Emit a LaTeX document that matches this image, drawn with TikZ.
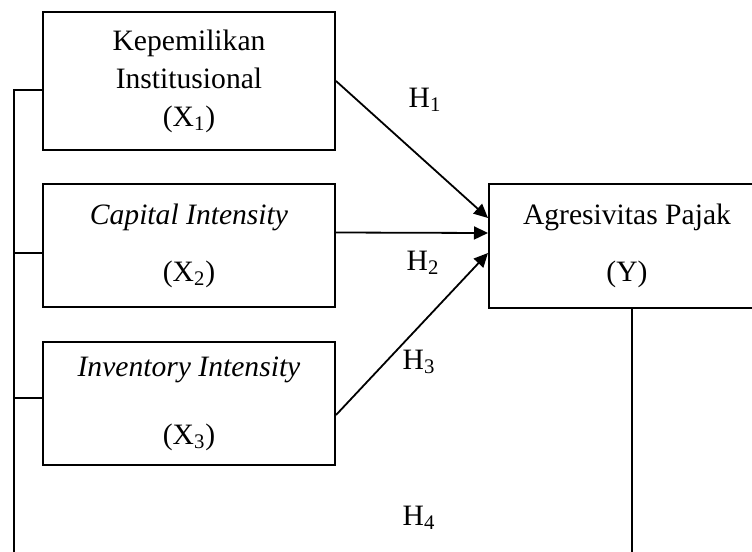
\documentclass[tikz,border=0pt]{standalone}
\usepackage{fontspec}
\setmainfont{Liberation Serif}
\usepackage{tikz}
\usetikzlibrary{positioning,arrows.meta}
\tikzset{
  varbox/.style={draw, line width=1pt, minimum width=146pt,
    font=\fontsize{14.8}{19}\selectfont, align=center, inner sep=0pt},
  hyplabel/.style={font=\fontsize{14.8}{19}\selectfont, inner sep=0pt},
  hyparr/.style={-{Triangle[length=7pt,width=6.5pt]}, line width=0.9pt},
  bracket/.style={line width=1pt},
}

\begin{document}
\begin{tikzpicture}[x=0.5pt, y=-0.5pt]
  \useasboundingbox (0,0) rectangle (752,552);
  \clip (0,0) rectangle (752,552);
  % ---- independent variables ----
  \node[varbox, minimum height=69pt] at (189,81) (X1)
    {Kepemilikan\\Institusional\\(X\textsubscript{1})};
  \node[varbox, minimum height=61.5pt] at (189,245.5) (X2)
    {\textit{Capital Intensity}\\[9.5pt](X\textsubscript{2})};
  \node[varbox, minimum height=61.5pt] at (189,403.5) (X3)
    {\textit{Inventory Intensity}\\[15pt](X\textsubscript{3})};
  % ---- dependent variable (runs off the right edge) ----
  \node[varbox, minimum width=138pt, minimum height=62pt] at (627,246) (Y)
    {Agresivitas Pajak\\[9.5pt](Y)};

  % ---- hypothesis labels ----
  \node[hyplabel] at (425,100) (H1) {H\textsubscript{1}};
  \node[hyplabel] at (423,263) (H2) {H\textsubscript{2}};
  \node[hyplabel] at (419,362) (H3) {H\textsubscript{3}};
  \node[hyplabel] at (419,518) (H4) {H\textsubscript{4}};

  % ---- Edges ----
  \draw[hyparr] (X1.east) -- ([yshift=14pt]Y.west);
  \draw[hyparr] ([yshift=6.5pt]X2.east) -- ([yshift=6.5pt]Y.west);
  \draw[hyparr] ([yshift=-5.75pt]X3.east) -- ([yshift=-3.5pt]Y.west);

  % simultaneous path (H4)
  \coordinate (lbot) at (14,570);
  \draw[bracket] (lbot) |- ([yshift=-4.5pt]X1.west);
  \draw[bracket] ([yshift=-3.75pt]X2.west) -- +(-29,0);
  \draw[bracket] ([yshift=3pt]X3.west) -- +(-29,0);
  \draw[bracket] ([xshift=2.5pt]Y.south) -- +(0,270);
\end{tikzpicture}
\end{document}
